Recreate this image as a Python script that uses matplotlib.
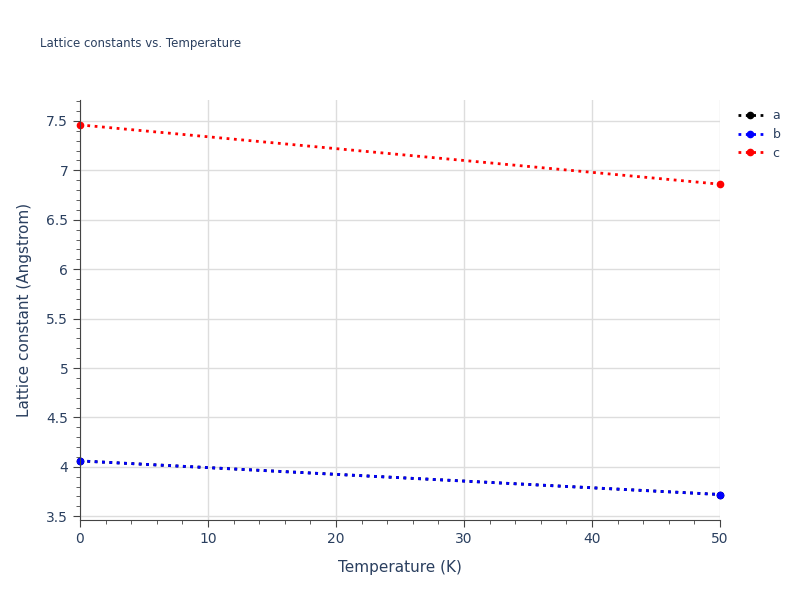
import matplotlib.pyplot as plt
import numpy as np

temperature = [0, 50]
lat_a = [4.06, 3.72]
lat_b = [4.06, 3.72]
lat_c = [7.46, 6.86]

fig = plt.figure(figsize=(8, 6), dpi=100)
ax = fig.add_axes([0.1, 0.133, 0.8, 0.7])

txt = '#2a3f5f'
ax.plot(temperature, lat_a, ':', color='black', lw=2, marker='o', ms=4.5, label='a')
ax.plot(temperature, lat_b, ':', color='blue', lw=2, marker='o', ms=4.5, label='b')
ax.plot(temperature, lat_c, ':', color='red', lw=2, marker='o', ms=4.5, label='c')

ax.set_xlim(0, 50)
ax.set_ylim(3.46, 7.71)
ax.set_xticks(np.arange(0, 51, 10))
ax.set_yticks(np.arange(3.5, 7.6, 0.5))
ax.set_yticklabels(['3.5', '4', '4.5', '5', '5.5', '6', '6.5', '7', '7.5'])
ax.set_xticks(np.arange(0, 51, 2), minor=True)
ax.set_yticks(np.arange(3.5, 7.71, 0.1), minor=True)
ax.grid(True, which='major', color='#dddddd', lw=1)
ax.set_axisbelow(True)
for s in ['top', 'right']:
    ax.spines[s].set_visible(False)
for s in ['left', 'bottom']:
    ax.spines[s].set_color('#444444')
ax.tick_params(which='both', colors='#444444', labelcolor=txt, labelsize=10)
ax.tick_params(which='major', length=5)
ax.tick_params(which='minor', length=3)
ax.set_xlabel('Temperature (K)', color=txt, fontsize=11, labelpad=10)
ax.set_ylabel('Lattice constant (Angstrom)', color=txt, fontsize=11, labelpad=10)
for l in ax.lines:
    l.set_clip_on(False)

fig.text(0.05, 0.922, 'Lattice constants vs. Temperature', color=txt, fontsize=8.5)
ax.legend(loc='upper left', bbox_to_anchor=(1.01, 1.005), frameon=False, fontsize=9,
          handlelength=2, labelcolor=txt, labelspacing=0.45)

fig.savefig('out.png')
